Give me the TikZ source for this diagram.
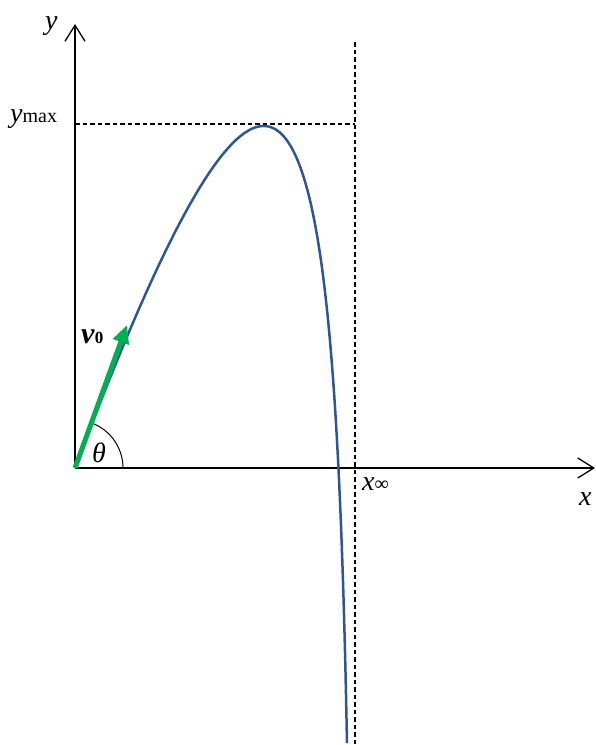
\documentclass[tikz,border=0pt]{standalone}
\usepackage{fontspec}
\setmainfont{Liberation Serif}
\usetikzlibrary{arrows.meta}
\definecolor{curveblue}{HTML}{2F5597}
\definecolor{vgreen}{HTML}{00B050}
\begin{document}
\begin{tikzpicture}[x=1pt,y=1pt,
  axis/.style={line width=1.3pt,-{Straight Barb[length=16pt,width=20pt]}},
  guide/.style={line width=1.3pt,dash pattern=on 4.5pt off 3pt},
  traj/.style={line width=2.5pt,curveblue,line join=round},
  vel/.style={line width=5pt,vgreen,-{Triangle[length=18pt,width=16pt]}},
  lbl/.style={inner sep=0pt,anchor=base west,font=\fontsize{28}{28}\selectfont}]
\useasboundingbox (0,0) rectangle (595,-745);
% coordinates
\coordinate (O) at (75,-468);
\coordinate (ytip) at (75,-24);
\coordinate (xtip) at (595,-468);
\coordinate (vtop) at (355,-42);
\coordinate (vbot) at (355,-745);
\coordinate (hleft) at (75,-124);
\coordinate (hright) at (355,-124);
\coordinate (vtip) at (127,-325);
% guides
\draw[guide] (vtop) -- (vbot);
\draw[guide] (hleft) -- (hright);
% axes
\draw[axis] (O) -- (ytip);
\draw[axis] (O) -- (xtip);
% trajectory (linear-drag projectile, parameter s = t/tau)
\draw[traj] plot[domain=0:3.83,samples=240,variable=\s,smooth]
  ({75+278*(1-exp(-\s))},{-468+1090*(1-exp(-\s))-350.3*\s});
% angle
\draw[line width=1pt] ([xshift=48pt]O) arc (0:69:48);
% velocity
\draw[vel] (O) -- (vtip);
% labels
\node[lbl] (ylab) at (45,-29) {\textit{y}};
\node[lbl] (ymax) at (10,-122) {\textit{y}\fontsize{20}{20}\selectfont max};
\node[lbl] (xinf) at (362,-490) {\textit{x}\fontsize{20}{20}\selectfont ∞};
\node[lbl] (xlab) at (579,-505) {\textit{x}};
\node[lbl] (theta) at (92,-462) {\textit{θ}};
\node[lbl,font=\fontsize{30}{30}\selectfont] (v0) at (81,-343) {\textbf{\textit{v}}\fontsize{17}{17}\selectfont\textbf{0}};
\end{tikzpicture}
\end{document}
